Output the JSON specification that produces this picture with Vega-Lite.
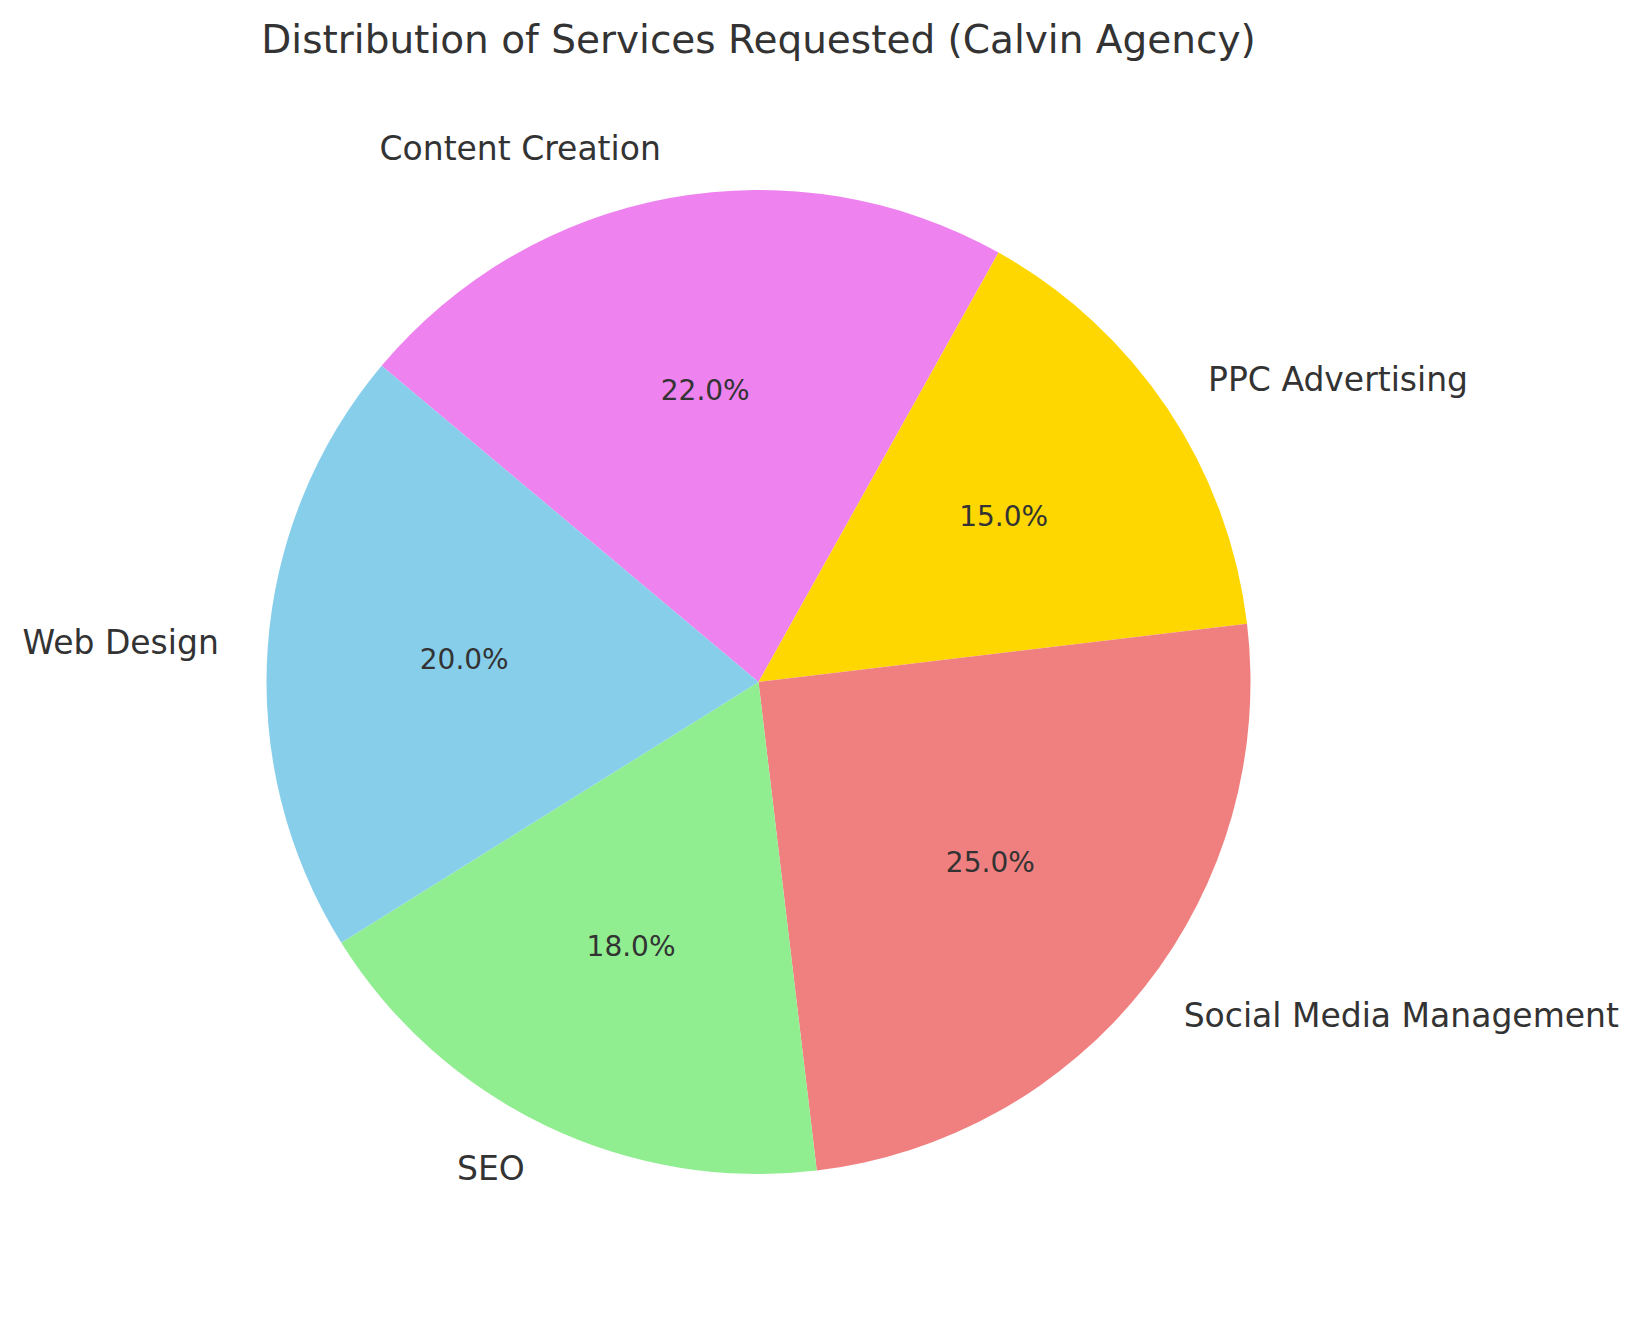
{
  "$schema": "https://vega.github.io/schema/vega-lite/v6.json",
  "width": 1317,
  "height": 1272,
  "autosize": "none",
  "padding": {"left": 100, "top": 46, "right": 228, "bottom": 0},
  "background": "white",
  "config": {"view": {"stroke": null}, "font": "DejaVu Sans"},
  "title": {
    "text": "Distribution of Services Requested (Calvin Agency)",
    "fontSize": 39,
    "font": "DejaVu Sans",
    "fontWeight": "normal",
    "color": "#333333",
    "anchor": "middle",
    "baseline": "alphabetic",
    "offset": -46
  },
  "data": {
    "values": [
      {"service": "Content Creation", "share": 0.22, "idx": 1},
      {"service": "PPC Advertising", "share": 0.15, "idx": 2},
      {"service": "Social Media Management", "share": 0.25, "idx": 3},
      {"service": "SEO", "share": 0.18, "idx": 4},
      {"service": "Web Design", "share": 0.20, "idx": 5}
    ]
  },
  "encoding": {
    "theta": {"field": "share", "type": "quantitative", "stack": true, "scale": {"range": [-0.87266, 5.41052]}},
    "order": {"field": "idx", "type": "quantitative"}
  },
  "layer": [
    {
      "mark": {"type": "arc", "outerRadius": 492},
      "encoding": {
        "color": {
          "field": "service",
          "type": "nominal",
          "legend": null,
          "scale": {
            "domain": ["Web Design", "SEO", "Social Media Management", "PPC Advertising", "Content Creation"],
            "range": ["#87CEEB", "#90EE90", "#F08080", "#FFD700", "#EE82EE"]
          }
        }
      }
    },
    {
      "mark": {"type": "text", "radius": 295, "fontSize": 28, "color": "#333333", "align": "center", "baseline": "middle", "font": "DejaVu Sans"},
      "encoding": {"text": {"field": "share", "type": "quantitative", "format": ".1%"}}
    },
    {
      "mark": {"type": "text", "radius": 541, "fontSize": 33, "color": "#333333", "align": "right", "baseline": "middle", "font": "DejaVu Sans"},
      "encoding": {"text": {"condition": {"test": "indexof(['Web Design','SEO','Content Creation'], datum.service) >= 0", "field": "service", "type": "nominal"}, "value": ""}}
    },
    {
      "mark": {"type": "text", "radius": 541, "fontSize": 33, "color": "#333333", "align": "left", "baseline": "middle", "font": "DejaVu Sans"},
      "encoding": {"text": {"condition": {"test": "indexof(['PPC Advertising','Social Media Management'], datum.service) >= 0", "field": "service", "type": "nominal"}, "value": ""}}
    }
  ]
}
